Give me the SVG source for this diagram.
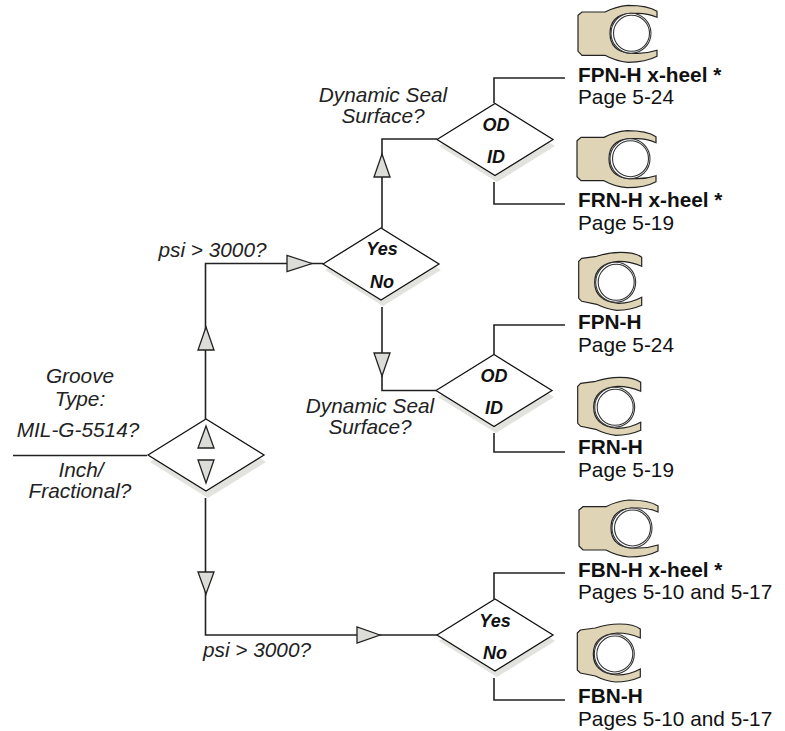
<svg xmlns="http://www.w3.org/2000/svg" width="785" height="731" viewBox="0 0 785 731">
<style>
text{font-family:"Liberation Sans",Arial,Helvetica,sans-serif;font-size:20.8px;fill:#111}
.b{font-weight:bold}
.i{font-style:italic;text-anchor:middle;fill:#222}
.l{font-style:italic;font-weight:bold;font-size:18px;text-anchor:middle}
.d{fill:#fff;stroke:#111;stroke-width:1.3}
.s{fill:#e2e2de;stroke:none}
.c{fill:none;stroke:#222;stroke-width:1.6}
.a{fill:#dcdcd8;stroke:#222;stroke-width:1.3;stroke-linejoin:miter}
.seal{fill:#dfd4b6;stroke:#222;stroke-width:1.2}
.ring{fill:#fff;stroke:#333;stroke-width:1.1}
</style>
<defs>
<g id="sealX">
<path class="seal" d="M0 10 L4 6.700 H27 Q38 1 50 0 Q70 0 79 6 V12 Q70 8 60 8 H52 Q32 10 32 28 Q32 46 52 48 H60 Q70 48 79 45 V51 Q68 57 50 57 Q38 56 27 50 H4 L0 46 Z"/>
<circle class="ring" cx="53" cy="28" r="20"/>
<circle class="ring" cx="53.500" cy="28" r="18"/>
</g>
<g id="sealP">
<path class="seal" d="M0 8 L3 5 L18 3 Q30 -1 42 -1 Q57 -1 63 4 V13 Q52 8 40 8 Q16 10 16 29 Q16 48 40 50 Q52 50 63 44 V52 Q52 57 38 57 Q28 56 18 51 L3 48 L0 45 Z"/>
<circle class="ring" cx="37" cy="29" r="20"/>
<circle class="ring" cx="37.500" cy="29" r="18"/>
</g>
<polygon id="dia" points="-58,0 0,-36 58,0 0,36"/>
</defs>

<g id="seal-fpn-xheel"><use href="#sealX" x="578" y="5.300"/><text class="b" x="578" y="82">FPN-H x-heel *</text><text x="578" y="104">Page 5-24</text></g>
<g id="seal-frn-xheel"><use href="#sealX" x="577" y="130.700"/><text class="b" x="578" y="207">FRN-H x-heel *</text><text x="578" y="230">Page 5-19</text></g>
<g id="seal-fpn"><use href="#sealP" x="578.700" y="253.300"/><text class="b" x="578" y="329">FPN-H</text><text x="578" y="352">Page 5-24</text></g>
<g id="seal-frn"><use href="#sealP" x="577.700" y="378.300"/><text class="b" x="578" y="454">FRN-H</text><text x="578" y="477">Page 5-19</text></g>
<g id="seal-fbn-xheel"><use href="#sealX" x="579" y="500"/><text class="b" x="578" y="577">FBN-H x-heel *</text><text x="578" y="599">Pages 5-10 and 5-17</text></g>
<g id="seal-fbn"><use href="#sealP" x="577.300" y="625"/><text class="b" x="578" y="703">FBN-H</text><text x="578" y="726">Pages 5-10 and 5-17</text></g>

<g id="node-groove">
<use href="#dia" class="s" x="208" y="462"/><use href="#dia" class="d" x="206" y="455"/>
<text class="i" x="80" y="383">Groove</text><text class="i" x="80" y="406">Type:</text><text class="i" x="78" y="437">MIL-G-5514?</text><text class="i" x="81" y="477">Inch/</text><text class="i" x="80" y="498">Fractional?</text>
</g>
<g id="node-psi-upper">
<use href="#dia" class="s" x="383" y="270"/><use href="#dia" class="d" x="381" y="264"/>
<text class="l" x="382" y="255">Yes</text><text class="l" x="382" y="288">No</text>
<text class="i" x="212.500" y="257">psi &gt; 3000?</text>
</g>
<g id="node-seal-upper">
<use href="#dia" class="s" x="497" y="146"/><use href="#dia" class="d" x="495" y="139.500"/>
<text class="l" x="496" y="131">OD</text><text class="l" x="496" y="163">ID</text>
<text class="i" x="383" y="102">Dynamic Seal</text><text class="i" x="383" y="123">Surface?</text>
</g>
<g id="node-seal-lower">
<use href="#dia" class="s" x="496" y="397"/><use href="#dia" class="d" x="494" y="390.500"/>
<text class="l" x="494" y="382">OD</text><text class="l" x="494" y="414">ID</text>
<text class="i" x="370" y="413">Dynamic Seal</text><text class="i" x="370" y="434">Surface?</text>
</g>
<g id="node-psi-lower">
<use href="#dia" class="s" x="497" y="641"/><use href="#dia" class="d" x="495" y="635"/>
<text class="l" x="495" y="627">Yes</text><text class="l" x="495" y="659">No</text>
<text class="i" x="257" y="657">psi &gt; 3000?</text>
</g>

<g id="connectors">
<path class="c" d="M13 455.500H147"/>
<path class="c" d="M205.500 419V263.500H323"/>
<path class="c" d="M205.500 498V635H437"/>
<path class="c" d="M382 228V139H437"/>
<path class="c" d="M382 307V390.500H436"/>
<path class="c" d="M494 103V78H565"/>
<path class="c" d="M494 182V204H565"/>
<path class="c" d="M494 354V325H565"/>
<path class="c" d="M494 433V452H565"/>
<path class="c" d="M494 599V573H565"/>
<path class="c" d="M494 678V700H565"/>
<polygon class="a" points="206,327 214,350 198,350"/>
<polygon class="a" points="206,426 214,448 198,448"/>
<polygon class="a" points="206,483 214,460 198,460"/>
<polygon class="a" points="206,594 214,572 198,572"/>
<polygon class="a" points="312,263.500 287,255.500 287,271.500"/>
<polygon class="a" points="380,635 357,627 357,643"/>
<polygon class="a" points="382,154 390,177 374,177"/>
<polygon class="a" points="382,376 390,353 374,353"/>
</g>
</svg>
